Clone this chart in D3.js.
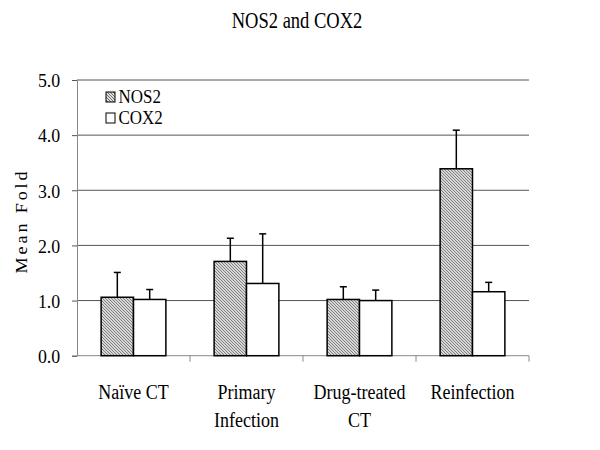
<!DOCTYPE html>
<html><head><meta charset="utf-8">
<script src="https://cdn.jsdelivr.net/npm/d3@7"></script>
<style>body{margin:0;background:#fff}svg{display:block}text{font-family:"Liberation Serif","DejaVu Serif",serif;fill:#000}</style>
</head><body>
<script>
const categories = ["Naïve CT", "Primary Infection", "Drug-treated CT", "Reinfection"];
const categoryLines = [["Naïve CT"], ["Primary", "Infection"], ["Drug-treated", "CT"], ["Reinfection"]];
const seriesNames = ["NOS2", "COX2"];
const nos2Values = [1.06, 1.71, 1.02, 3.39];
const nos2Errors = [0.45, 0.42, 0.23, 0.70];
const cox2Values = [1.02, 1.31, 1.00, 1.16];
const cox2Errors = [0.18, 0.90, 0.19, 0.17];
const yTicks = [0, 1, 2, 3, 4, 5];
const title = "NOS2 and COX2";
const yTitle = "Mean Fold";

(function(){
const FONT = "Liberation Serif";
const W = 600, H = 450;
const svg = d3.select("body").append("svg").attr("width", W).attr("height", H)
  .attr("font-family", FONT);
const defs = svg.append("defs");
const pat = defs.append("pattern").attr("id", "hatch").attr("patternUnits", "userSpaceOnUse")
  .attr("width", 3).attr("height", 3);
pat.append("rect").attr("width", 3).attr("height", 3).attr("fill", "#dcdcdc");
pat.append("path").attr("d", "M-1,-1 L4,4 M-1,2 L1,4 M2,-1 L4,1").attr("stroke", "#6a6a6a").attr("stroke-width", 0.9);

const mL = 77, mR = 529, mT = 80, mB = 355.7;
const x = d3.scaleBand().domain(categories).range([mL, mR]).paddingInner(0.427).paddingOuter(0.2135);
const xs = d3.scaleBand().domain(seriesNames).range([0, x.bandwidth()]);
const y = d3.scaleLinear().domain([0, 5]).range([mB, mT]);

svg.append("g").selectAll("line").data(yTicks.filter(d => d > 0)).join("line")
  .attr("x1", mL).attr("x2", mR).attr("y1", d => y(d)).attr("y2", d => y(d))
  .attr("stroke", "#555").attr("stroke-width", 1);

const yAxis = svg.append("g").attr("transform", `translate(${mL},0)`)
  .call(d3.axisLeft(y).tickValues(yTicks).tickFormat(d3.format(".1f")).tickSize(5).tickPadding(11));
yAxis.attr("font-family", FONT).attr("font-size", 17);
yAxis.select(".domain").attr("stroke", "#888");
yAxis.selectAll(".tick line").attr("stroke", "#555");
yAxis.selectAll(".tick text").attr("fill", "#000")
  .attr("dy", null).attr("y", 0).attr("dominant-baseline", "central").attr("transform", "scale(1.05,1.15)");

const xAxisG = svg.append("g");
xAxisG.append("line").attr("x1", mL).attr("x2", mR).attr("y1", mB).attr("y2", mB).attr("stroke", "#888");
xAxisG.selectAll("line.tk").data(categories).join("line").attr("class", "tk")
  .attr("x1", d => x(d) - x.step() * 0.2135 + x.step()).attr("x2", d => x(d) - x.step() * 0.2135 + x.step())
  .attr("y1", mB).attr("y2", mB + 6).attr("stroke", "#888");

const groups = svg.append("g").selectAll("g").data(categories).join("g")
  .attr("transform", d => `translate(${x(d)},0)`);
const rows = categories.map((c, i) => [
  { s: "NOS2", v: nos2Values[i], e: nos2Errors[i] },
  { s: "COX2", v: cox2Values[i], e: cox2Errors[i] }
]);
groups.each(function(c, i) {
  const g = d3.select(this);
  const data = rows[i];
  g.selectAll("line.stem").data(data).join("line").attr("class", "stem")
    .attr("x1", d => xs(d.s) + xs.bandwidth() / 2).attr("x2", d => xs(d.s) + xs.bandwidth() / 2)
    .attr("y1", d => y(d.v)).attr("y2", d => y(d.v + d.e)).attr("stroke", "#000").attr("stroke-width", 1.5);
  g.selectAll("line.cap").data(data).join("line").attr("class", "cap")
    .attr("x1", d => xs(d.s) + xs.bandwidth() / 2 - 3.5).attr("x2", d => xs(d.s) + xs.bandwidth() / 2 + 3.5)
    .attr("y1", d => y(d.v + d.e)).attr("y2", d => y(d.v + d.e)).attr("stroke", "#000").attr("stroke-width", 1.5);
  g.selectAll("rect").data(data).join("rect")
    .attr("x", d => xs(d.s)).attr("width", xs.bandwidth())
    .attr("y", d => y(d.v)).attr("height", d => y(0) - y(d.v))
    .attr("fill", d => d.s === "NOS2" ? "url(#hatch)" : "#fff")
    .attr("stroke", "#000").attr("stroke-width", 1.5);
});

function stretchedText(sel, tx, ty, str, size, anchor, sy) {
  return sel.append("text").attr("transform", `translate(${tx},${ty}) scale(1,${sy})`)
    .attr("text-anchor", anchor).attr("font-size", size).attr("font-family", FONT).text(str);
}

categories.forEach((c, i) => {
  const cx = x(c) + x.bandwidth() / 2;
  categoryLines[i].forEach((ln, j) => stretchedText(svg, cx, 399 + j * 28, ln, 18, "middle", 1.2));
});

stretchedText(svg, 297, 28, title, 18.5, "middle", 1.25);

svg.append("text").attr("transform", "translate(27,221) rotate(-90) scale(1.1,1)")
  .attr("text-anchor", "middle").attr("font-size", 16.5).attr("font-family", FONT)
  .attr("letter-spacing", 2.6).text(yTitle);

const legend = svg.append("g");
seriesNames.forEach((s, i) => {
  const ly = 92 + i * 21;
  legend.append("rect").attr("x", 106).attr("y", ly).attr("width", 9).attr("height", 10)
    .attr("fill", s === "NOS2" ? "url(#hatch)" : "#fff").attr("stroke", "#000").attr("stroke-width", 1);
  stretchedText(legend, 118.5, ly + 11, s, 17, "start", 1.15);
});
})();
</script>
</body></html>
